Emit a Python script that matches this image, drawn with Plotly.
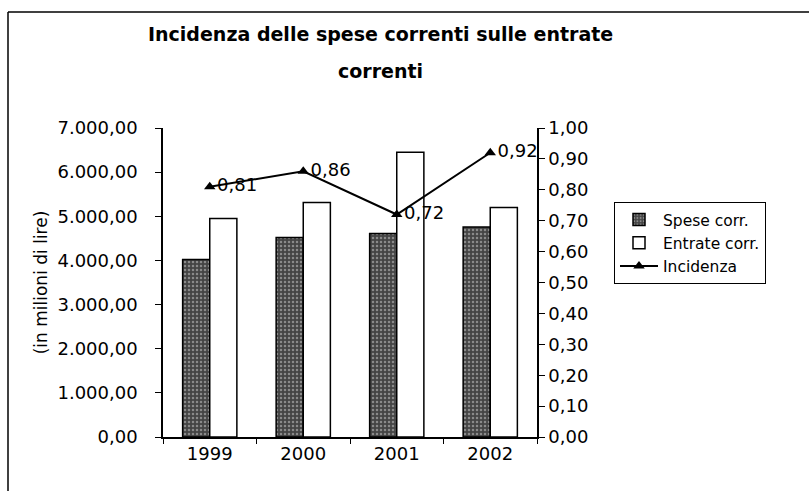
import plotly.graph_objects as go

YEARS = ["1999", "2000", "2001", "2002"]
SPESE = [4020, 4520, 4610, 4760]
ENTRATE = [4950, 5310, 6450, 5200]
INCIDENZA = [0.81, 0.86, 0.72, 0.92]
TITLE_LINES = ["Incidenza delle spese correnti sulle entrate", "correnti"]

FONT = "DejaVu Sans, Verdana, sans-serif"
W, H = 809, 491
L, R, T, B = 163, 272, 128, 54
plot_w = W - L - R
plot_h = H - T - B


def px_x(x):
    return (x - L) / plot_w


def px_y(y):
    return (H - B - y) / plot_h


incidenza_text = [f"{v:.2f}".replace(".", ",") for v in INCIDENZA]

fig = go.Figure()
fig.add_trace(go.Bar(
    x=YEARS, y=SPESE, name="Spese corr.",
    marker=dict(
        color="#444444",
        line=dict(color="black", width=1.5),
        pattern=dict(shape=".", fgcolor="#d0d0d0", bgcolor="#444444", size=4, solidity=0.3),
    ),
))
fig.add_trace(go.Bar(
    x=YEARS, y=ENTRATE, name="Entrate corr.",
    marker=dict(color="white", line=dict(color="black", width=1.5)),
))
fig.add_trace(go.Scatter(
    x=YEARS, y=INCIDENZA, name="Incidenza", yaxis="y2",
    mode="lines+markers+text",
    line=dict(color="black", width=2),
    marker=dict(symbol="triangle-up", size=10, color="black"),
    text=incidenza_text, textposition="middle right",
    textfont=dict(size=18, color="black", family=FONT),
))

title_annotations = [
    dict(text=f"<b>{line}</b>", xref="paper", yref="paper",
         x=px_x(380), y=px_y(cy), xanchor="center", yanchor="middle",
         showarrow=False, font=dict(size=19, family=FONT, color="black"))
    for line, cy in zip(TITLE_LINES, [34, 71])
]

fig.update_layout(
    width=W, height=H,
    paper_bgcolor="white", plot_bgcolor="white",
    font=dict(family=FONT, size=18, color="black"),
    margin=dict(l=L, r=R, t=T, b=B),
    separators=",.",
    barmode="group", bargap=0.42, bargroupgap=0,
    annotations=title_annotations,
    xaxis=dict(
        type="category", showgrid=False, showline=True, linecolor="black", linewidth=1.5,
        ticks="outside", tickson="boundaries", ticklen=5, tickcolor="black",
    ),
    yaxis=dict(
        range=[0, 7000], dtick=1000, tickformat=",.2f",
        showgrid=False, zeroline=False, showline=True, linecolor="black", linewidth=1.5,
        ticks="outside", ticklen=6, tickcolor="black", ticklabelstandoff=14,
        title=dict(text="(in milioni di lire)", font=dict(size=17), standoff=6),
    ),
    yaxis2=dict(
        range=[0, 1], dtick=0.1, tickformat=".2f", overlaying="y", side="right",
        showgrid=False, zeroline=False, showline=True, linecolor="black", linewidth=1.5,
        ticks="outside", ticklen=6, tickcolor="black",
    ),
    legend=dict(
        x=px_x(614), y=px_y(202), xanchor="left", yanchor="top",
        bordercolor="black", borderwidth=1, bgcolor="white",
        font=dict(size=15.5), tracegroupgap=0, itemwidth=38,
    ),
    showlegend=True,
    shapes=[
        dict(type="line", xref="paper", yref="paper",
             x0=px_x(8), x1=px_x(W), y0=px_y(12), y1=px_y(12),
             line=dict(color="black", width=1.5)),
        dict(type="line", xref="paper", yref="paper",
             x0=px_x(8), x1=px_x(8), y0=px_y(12), y1=px_y(H),
             line=dict(color="black", width=1.5)),
    ],
)

fig.write_html(
    "out.html",
    config={"displayModeBar": False},
    post_script="document.body.style.margin='0px';",
)
